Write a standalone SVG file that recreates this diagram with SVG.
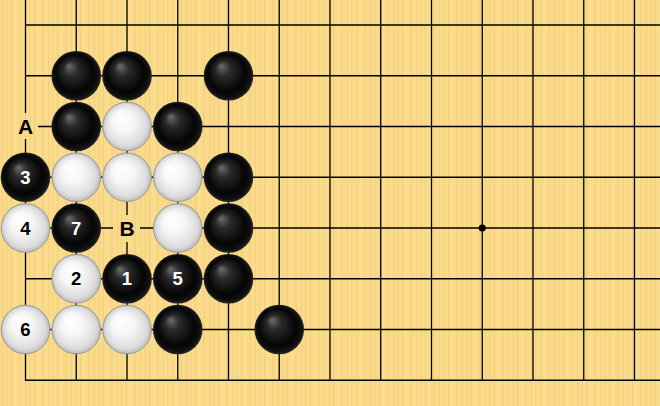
<svg xmlns="http://www.w3.org/2000/svg" width="660" height="406" viewBox="0 0 660 406">
<style>
.ln{stroke:#000;stroke-width:1.3;fill:none}
.b{fill:url(#gb)}
.w{fill:url(#gw);stroke:#9a9a9a;stroke-width:1}
.t{font-family:"Liberation Sans",Arial,sans-serif;font-weight:bold;text-anchor:middle}
.tb{fill:#fff;font-size:18.5px}
.tw{fill:#000;font-size:18.5px}
.tl{fill:#000;font-size:21px}
</style>
<defs>
<pattern id="wood" width="23" height="10" patternUnits="userSpaceOnUse">
<rect width="23" height="10" fill="#FADA8B"/>
<rect x="2" width="1" height="10" fill="#F5D07C"/>
<rect x="6" width="2" height="10" fill="#F7D583"/>
<rect x="11" width="1" height="10" fill="#F4CF7A"/>
<rect x="15" width="1" height="10" fill="#FCDF92"/>
<rect x="19" width="2" height="10" fill="#F6D380"/>
</pattern>
<radialGradient id="gb" cx="0.5" cy="0.5" r="0.5" fx="0.35" fy="0.3">
<stop offset="0" stop-color="#6e6e6e"/>
<stop offset="0.3" stop-color="#2a2a2a"/>
<stop offset="0.75" stop-color="#050505"/>
<stop offset="0.92" stop-color="#111"/>
<stop offset="1" stop-color="#2a2a2a"/>
</radialGradient>
<radialGradient id="gw" cx="0.5" cy="0.5" r="0.5" fx="0.35" fy="0.3">
<stop offset="0" stop-color="#ffffff"/>
<stop offset="0.45" stop-color="#f6f6f6"/>
<stop offset="0.85" stop-color="#dcdcdc"/>
<stop offset="1" stop-color="#bdbdbd"/>
</radialGradient>
</defs>
<rect width="660" height="406" fill="url(#wood)"/>
<g id="grid">
<path class="ln" d="M25.5 0V380.25M76.25 0V380.25M127 0V380.25M177.75 0V380.25M228.5 0V380.25M279.25 0V380.25M330 0V380.25M380.75 0V380.25M431.5 0V380.25M482.25 0V380.25M533 0V380.25M583.75 0V380.25M634.5 0V380.25"/>
<path class="ln" d="M25.5 25H660M25.5 75.75H660M25.5 126.5H660M25.5 177.25H660M25.5 228H660M25.5 278.75H660M25.5 329.5H660M25 380.25H660"/>
<circle cx="482.25" cy="228" r="3.6" fill="#000"/>
</g>
<g id="connectors"></g>
<g id="label-A"><rect x="12" y="113" width="26" height="26" fill="url(#wood)"/><text class="t tl" x="25.5" y="134">A</text></g>
<g id="label-B"><rect x="113" y="215" width="27" height="27" fill="url(#wood)"/><text class="t tl" x="127" y="235.5">B</text></g>
<g id="b-1-1"><circle class="b" cx="76.25" cy="75.75" r="24.8"/></g>
<g id="b-2-1"><circle class="b" cx="127" cy="75.75" r="24.8"/></g>
<g id="b-4-1"><circle class="b" cx="228.5" cy="75.75" r="24.8"/></g>
<g id="b-1-2"><circle class="b" cx="76.25" cy="126.5" r="24.8"/></g>
<g id="w-2-2"><circle class="w" cx="127" cy="126.5" r="24.3"/></g>
<g id="b-3-2"><circle class="b" cx="177.75" cy="126.5" r="24.8"/></g>
<g id="b-3"><circle class="b" cx="25.5" cy="177.25" r="24.8"/><text class="t tb" x="25.5" y="183.9">3</text></g>
<g id="w-1-3"><circle class="w" cx="76.25" cy="177.25" r="24.3"/></g>
<g id="w-2-3"><circle class="w" cx="127" cy="177.25" r="24.3"/></g>
<g id="w-3-3"><circle class="w" cx="177.75" cy="177.25" r="24.3"/></g>
<g id="b-4-3"><circle class="b" cx="228.5" cy="177.25" r="24.8"/></g>
<g id="w-4"><circle class="w" cx="25.5" cy="228" r="24.3"/><text class="t tw" x="25.5" y="234.6">4</text></g>
<g id="b-7"><circle class="b" cx="76.25" cy="228" r="24.8"/><text class="t tb" x="76.25" y="234.6">7</text></g>
<g id="w-3-4"><circle class="w" cx="177.75" cy="228" r="24.3"/></g>
<g id="b-4-4"><circle class="b" cx="228.5" cy="228" r="24.8"/></g>
<g id="w-2"><circle class="w" cx="76.25" cy="278.75" r="24.3"/><text class="t tw" x="76.25" y="285.4">2</text></g>
<g id="b-1"><circle class="b" cx="127" cy="278.75" r="24.8"/><text class="t tb" x="127" y="285.4">1</text></g>
<g id="b-5"><circle class="b" cx="177.75" cy="278.75" r="24.8"/><text class="t tb" x="177.75" y="285.4">5</text></g>
<g id="b-4-5"><circle class="b" cx="228.5" cy="278.75" r="24.8"/></g>
<g id="w-6"><circle class="w" cx="25.5" cy="329.5" r="24.3"/><text class="t tw" x="25.5" y="336.1">6</text></g>
<g id="w-1-6"><circle class="w" cx="76.25" cy="329.5" r="24.3"/></g>
<g id="w-2-6"><circle class="w" cx="127" cy="329.5" r="24.3"/></g>
<g id="b-3-6"><circle class="b" cx="177.75" cy="329.5" r="24.8"/></g>
<g id="b-5-6"><circle class="b" cx="279.25" cy="329.5" r="24.8"/></g>
</svg>
